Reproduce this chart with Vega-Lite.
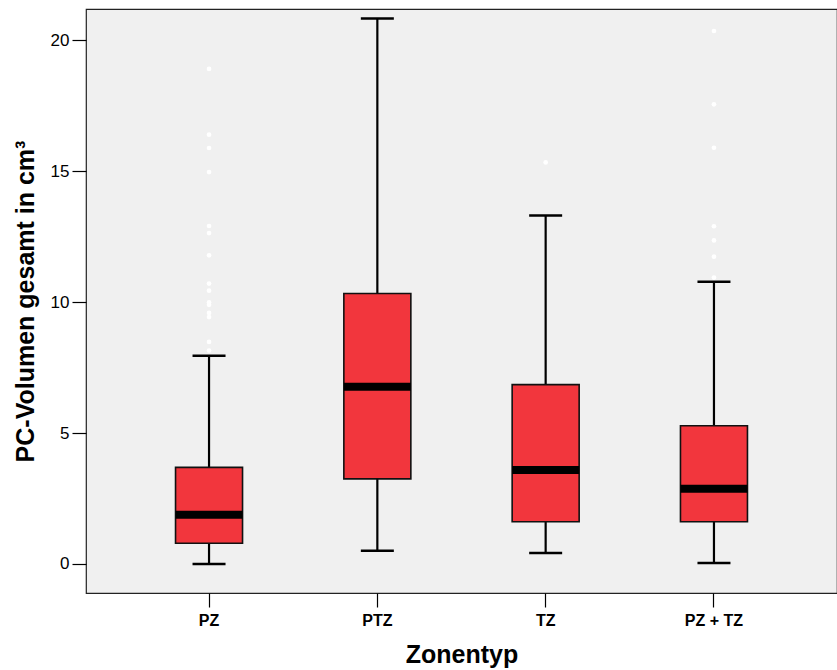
{
  "$schema": "https://vega.github.io/schema/vega-lite/v6.json",
  "autosize": {"type": "none"},
  "padding": {"left": 86, "top": 9, "right": 0, "bottom": 77},
  "width": 751,
  "height": 584,
  "background": "white",
  "config": {
    "view": {"fill": "#F0F0F0", "stroke": "#222222", "strokeWidth": 1.2},
    "font": "Liberation Sans"
  },
  "datasets": {
    "boxes": [
      {"zone": "PZ", "low": 0.0, "q1": 0.79, "median": 1.88, "q3": 3.69, "high": 7.95},
      {"zone": "PTZ", "low": 0.50, "q1": 3.25, "median": 6.77, "q3": 10.33, "high": 20.84},
      {"zone": "TZ", "low": 0.42, "q1": 1.61, "median": 3.59, "q3": 6.85, "high": 13.31},
      {"zone": "PZ + TZ", "low": 0.04, "q1": 1.61, "median": 2.87, "q3": 5.28, "high": 10.78}
    ],
    "outliers": [
      {"zone": "PZ", "value": 18.91},
      {"zone": "PZ", "value": 16.40},
      {"zone": "PZ", "value": 15.89},
      {"zone": "PZ", "value": 14.97},
      {"zone": "PZ", "value": 12.91},
      {"zone": "PZ", "value": 12.64},
      {"zone": "PZ", "value": 11.79},
      {"zone": "PZ", "value": 10.71},
      {"zone": "PZ", "value": 10.44},
      {"zone": "PZ", "value": 9.99},
      {"zone": "PZ", "value": 9.90},
      {"zone": "PZ", "value": 9.59},
      {"zone": "PZ", "value": 9.43},
      {"zone": "PZ", "value": 8.48},
      {"zone": "PZ", "value": 8.15},
      {"zone": "TZ", "value": 15.34},
      {"zone": "PZ + TZ", "value": 20.36},
      {"zone": "PZ + TZ", "value": 17.56},
      {"zone": "PZ + TZ", "value": 15.90},
      {"zone": "PZ + TZ", "value": 12.90},
      {"zone": "PZ + TZ", "value": 12.36},
      {"zone": "PZ + TZ", "value": 11.74},
      {"zone": "PZ + TZ", "value": 10.94}
    ]
  },
  "encoding": {
    "x": {
      "field": "zone",
      "type": "nominal",
      "sort": ["PZ", "PTZ", "TZ", "PZ + TZ"],
      "scale": {"type": "band", "domain": ["PZ", "PTZ", "TZ", "PZ + TZ"], "paddingInner": 0, "paddingOuter": 0.231},
      "axis": {
        "title": "Zonentyp",
        "titleFontSize": 25,
        "titleFontWeight": "bold",
        "titleColor": "#000000",
        "titlePadding": 14,
        "labelAngle": 0,
        "labelFontSize": 16,
        "labelFontWeight": "bold",
        "labelColor": "#000000",
        "labelPadding": 5,
        "tickSize": 14,
        "tickColor": "#000000",
        "tickWidth": 1.2,
        "domain": false
      }
    }
  },
  "layer": [
    {
      "data": {"name": "boxes"},
      "mark": {"type": "rule", "color": "#000000", "strokeWidth": 2.2},
      "encoding": {
        "y": {
          "field": "low",
          "type": "quantitative",
          "scale": {"domain": [-1.11, 21.2], "nice": false, "zero": false},
          "axis": {
            "title": "PC-Volumen gesamt in cm³",
            "titleFontSize": 25,
            "titleFontWeight": "bold",
            "titleColor": "#000000",
            "titlePadding": 12,
            "values": [0, 5, 10, 15, 20],
            "grid": false,
            "domain": false,
            "labelFontSize": 17,
            "labelColor": "#000000",
            "labelPadding": 3,
            "tickSize": 14,
            "tickColor": "#000000",
            "tickWidth": 1.2
          }
        },
        "y2": {"field": "high"}
      }
    },
    {
      "data": {"name": "boxes"},
      "mark": {"type": "tick", "color": "#000000", "size": 33, "thickness": 2.5, "opacity": 1},
      "encoding": {"y": {"field": "low", "type": "quantitative"}}
    },
    {
      "data": {"name": "boxes"},
      "mark": {"type": "tick", "color": "#000000", "size": 33, "thickness": 2.5, "opacity": 1},
      "encoding": {"y": {"field": "high", "type": "quantitative"}}
    },
    {
      "data": {"name": "boxes"},
      "mark": {"type": "bar", "size": 67, "fill": "#F2363D", "stroke": "#111111", "strokeWidth": 1.6},
      "encoding": {
        "y": {"field": "q1", "type": "quantitative"},
        "y2": {"field": "q3"}
      }
    },
    {
      "data": {"name": "boxes"},
      "mark": {"type": "tick", "color": "#000000", "size": 67, "thickness": 8, "opacity": 1},
      "encoding": {"y": {"field": "median", "type": "quantitative"}}
    },
    {
      "data": {"name": "outliers"},
      "mark": {"type": "circle", "color": "#FFFFFF", "size": 22, "opacity": 1},
      "encoding": {"y": {"field": "value", "type": "quantitative"}}
    }
  ]
}
